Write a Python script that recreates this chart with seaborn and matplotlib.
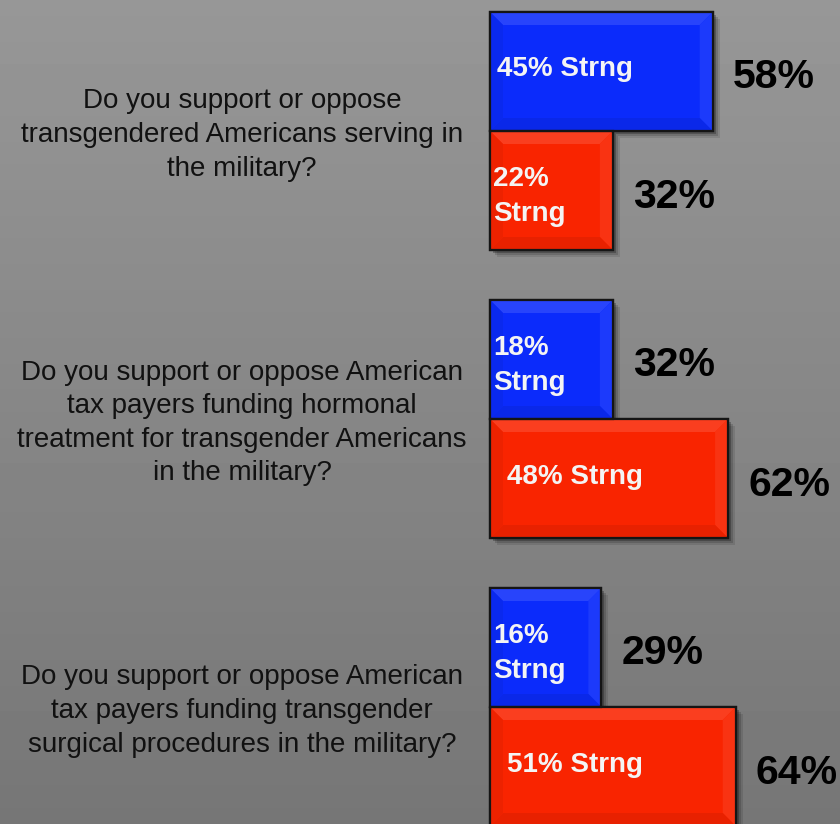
# Transgender military survey - support vs oppose bars
import numpy as np
import pandas as pd
import matplotlib
matplotlib.use("Agg")
import matplotlib.pyplot as plt
import matplotlib.transforms as mtransforms
from matplotlib.patches import Polygon, Rectangle
import seaborn as sns

# ---- data ----
questions = [
    "Do you support or oppose\ntransgendered Americans serving in\nthe military?",
    "Do you support or oppose American\ntax payers funding hormonal\ntreatment for transgender Americans\nin the military?",
    "Do you support or oppose American\ntax payers funding transgender\nsurgical procedures in the military?",
]
support_total = [58, 32, 29]
oppose_total = [32, 62, 64]
support_strong = [45, 18, 16]
oppose_strong = [22, 48, 51]
sides = ["Support", "Oppose"]

# ---- style ----
W, H, DPI = 840, 824, 100
bar_colors = {"Support": "#0b2bfb", "Oppose": "#f92400"}
px_per_pct = 3.84
px_per_unit = 288
axes_left_px = 490

df = pd.DataFrame({
    "question": questions * 2,
    "side": ["Support"] * 3 + ["Oppose"] * 3,
    "total": support_total + oppose_total,
    "strong": support_strong + oppose_strong,
})

sns.set_style("white")
plt.rcParams["font.family"] = ["Liberation Sans", "DejaVu Sans"]

fig = plt.figure(figsize=(W / DPI, H / DPI), dpi=DPI)

# background gradient
bg = fig.add_axes([0, 0, 1, 1], zorder=-1)
grad = np.linspace(151, 118, 256).reshape(-1, 1) / 255.0
bg.imshow(grad, aspect="auto", cmap="gray", vmin=0, vmax=1, extent=[0, 1, 0, 1])
bg.axis("off")

ax = fig.add_axes([axes_left_px / W, 0, (W - axes_left_px) / W, 1])
ax.set_facecolor("none")

sns.barplot(
    data=df, y="question", x="total", hue="side", hue_order=sides,
    palette=bar_colors, orient="h", width=2 * 119 / px_per_unit,
    dodge=True, legend=False, ax=ax, saturation=1,
    edgecolor="#151515", linewidth=1.6,
)

xmax = (W - axes_left_px) / px_per_pct
ax.set_xlim(0, xmax)
top = -131 / px_per_unit
ax.set_ylim(top + H / px_per_unit, top)
ax.axis("off")

dx = 1 / px_per_pct      # one pixel in x data units
dy = 1 / px_per_unit     # one pixel in y data units


def shade(c, f):
    c = np.array(matplotlib.colors.to_rgb(c))
    if f > 0:
        return tuple(c + (1 - c) * f)
    return tuple(c * (1 + f))


inset = 13
for side, container in zip(sides, ax.containers):
    base = bar_colors[side]
    for i, bar in enumerate(container):
        bar.set_clip_on(False)
        bar.set_zorder(3)
        x0, y0 = bar.get_x(), bar.get_y()
        w, h = bar.get_width(), bar.get_height()
        x1, y1 = x0 + w, y0 + h
        # soft drop shadow
        for k, a in [(7, 0.10), (5, 0.15), (3, 0.25)]:
            ax.add_patch(Rectangle((x0 + k * dx, y0 + k * dy), w, h,
                                   facecolor="black", alpha=a, lw=0,
                                   zorder=1, clip_on=False))
        # bevel faces
        ix0, ix1 = x0 + inset * dx, x1 - inset * dx
        iy0, iy1 = y0 + inset * dy, y1 - inset * dy
        faces = [
            ([(x0, y0), (x1, y0), (ix1, iy0), (ix0, iy0)], 0.12),   # top
            ([(x1, y0), (x1, y1), (ix1, iy1), (ix1, iy0)], 0.07),   # right
            ([(x0, y1), (x1, y1), (ix1, iy1), (ix0, iy1)], -0.07),  # bottom
            ([(x0, y0), (ix0, iy0), (ix0, iy1), (x0, y1)], -0.05),  # left
        ]
        for pts, f in faces:
            ax.add_patch(Polygon(pts, closed=True, facecolor=shade(base, f),
                                 lw=0, zorder=3.5, clip_on=False))
        ax.add_patch(Rectangle((x0, y0), w, h, facecolor="none",
                               edgecolor="#151515", lw=1.6, zorder=4,
                               clip_on=False))

        totals = support_total if side == "Support" else oppose_total
        strongs = support_strong if side == "Support" else oppose_strong
        yc = y0 + h / 2
        # total label right of the bar
        ax.text(x1 + 20 * dx, yc + 6 * dy, f"{totals[i]}%", ha="left", va="center",
                fontsize=29.5, fontweight="bold", color="black", zorder=5)
        # strong label inside the bar
        if totals[i] < 40:
            lab, off, voff = f"{strongs[i]}%\nStrng", 3, 6
        else:
            lab, off, voff = f"{strongs[i]}% Strng", (7 if side == "Support" else 17), -2
        ax.text(x0 + off * dx, yc + voff * dy, lab, ha="left", va="center",
                fontsize=20, fontweight="bold", color="#f4f4f4",
                family=["Liberation Sans Narrow", "Liberation Sans", "DejaVu Sans"],
                linespacing=1.42, zorder=5)

# question text on the left
trans = mtransforms.blended_transform_factory(fig.transFigure, ax.transData)
for i, q in enumerate(questions):
    ax.text(242 / W, i + 4 * dy, q, transform=trans, ha="center", va="center",
            fontsize=20, color="#111111", linespacing=1.38, clip_on=False)

fig.savefig("out.png", dpi=DPI)
